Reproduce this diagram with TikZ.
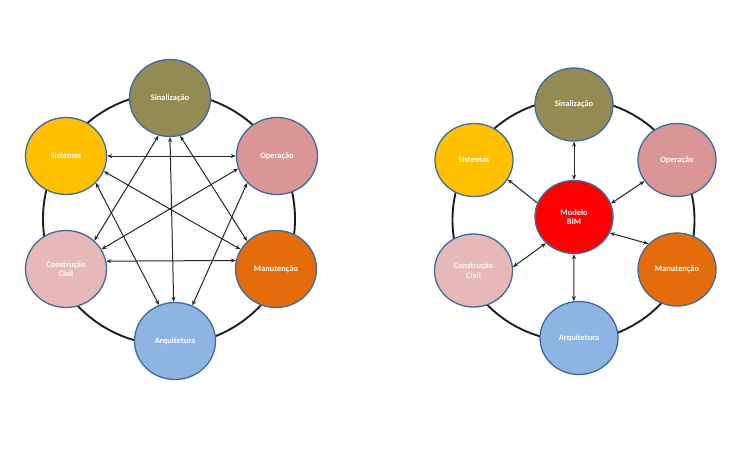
\documentclass[tikz,border=0pt]{standalone}
\usepackage{fontspec}
\newfontfamily\calib{Carlito}
\usetikzlibrary{shapes.geometric,arrows.meta}
\definecolor{cSin}{HTML}{948A54}
\definecolor{cSis}{HTML}{FFC000}
\definecolor{cOpe}{HTML}{D99694}
\definecolor{cMan}{HTML}{E46C0A}
\definecolor{cCon}{HTML}{E6B9B8}
\definecolor{cArq}{HTML}{8EB4E3}
\definecolor{cBim}{HTML}{FF0000}
\definecolor{cEdge}{HTML}{3F6A9E}
\definecolor{cRing}{HTML}{1E1E1E}
\tikzset{
  disc/.style={ellipse, draw=cEdge, line width=1.3pt, inner sep=0pt,
    text=white, font=\calib\bfseries\fontsize{8.4}{9.5}\selectfont, align=center},
  bigL/.style={disc, minimum width=81pt, minimum height=77pt},
  bigR/.style={disc, minimum width=78pt, minimum height=73pt},
  ring/.style={draw=cRing, line width=1.9pt},
  link/.style={draw=black!85, line width=1pt, {Stealth[length=5pt,width=4pt]}-{Stealth[length=5pt,width=4pt]}},
  onelink/.style={draw=black!85, line width=1pt, -{Stealth[length=5pt,width=4pt]}}
}
\begin{document}
\begin{tikzpicture}[x=1pt,y=-1pt]
\useasboundingbox[fill=white] (0,0) rectangle (751,463);
% ---------- left diagram ----------
\coordinate (cL) at (169,219);
\draw[ring] (cL) circle[radius=126];
\node[bigL, fill=cSin] (sinL) at (170,98) {Sinalização};
\node[bigL, fill=cSis] (sisL) at (66,156) {Sistemas};
\node[bigL, fill=cOpe] (opeL) at (277,156) {Operação};
\node[bigL, fill=cCon] (conL) at (66,269) {Construção\\Civil};
\node[bigL, fill=cMan] (manL) at (276,269) {Manutenção};
\node[bigL, fill=cArq] (arqL) at (175,341) {Arquitetura};
\draw[link] (sisL.0) -- (opeL.180);
\draw[link] (conL.11) -- (manL.168);
\draw[link] (sinL.270) -- (arqL.92);
\draw[link] (sinL.253) -- (conL.45);
\draw[link] (sinL.285) -- (manL.136);
\draw[link] (sisL.338) -- (manL.151);
\draw[link] (opeL.198) -- (conL.29);
\draw[link] (sisL.318) -- (arqL.114);
\draw[link] (opeL.222) -- (arqL.64);
% ---------- right diagram ----------
\coordinate (cR) at (573.5,220);
\draw[ring] (cR) circle[radius=121];
\node[bigR, fill=cSin] (sinR) at (574,104.5) {Sinalização};
\node[bigR, fill=cSis] (sisR) at (474,160) {Sistemas};
\node[bigR, fill=cOpe] (opeR) at (677,160) {Operação};
\node[bigR, fill=cBim] (bim) at (574,217) {Modelo\\BIM};
\node[bigR, fill=cCon] (conR) at (473.5,270.5) {Construção\\Civil};
\node[bigR, fill=cMan] (manR) at (677,269.5) {Manutenção};
\node[bigR, fill=cArq] (arqR) at (579,338) {Arquitetura};
\draw[link] (sinR.270) -- (bim.90);
\draw[onelink] (bim.159) -- (sisR.330);
\draw[link] (opeR.213) -- (bim.20);
\draw[link] (manR.138) -- (bim.336);
\draw[link] (conR.5) -- (bim.223);
\draw[link] (arqR.98) -- (bim.270);
\end{tikzpicture}
\end{document}
